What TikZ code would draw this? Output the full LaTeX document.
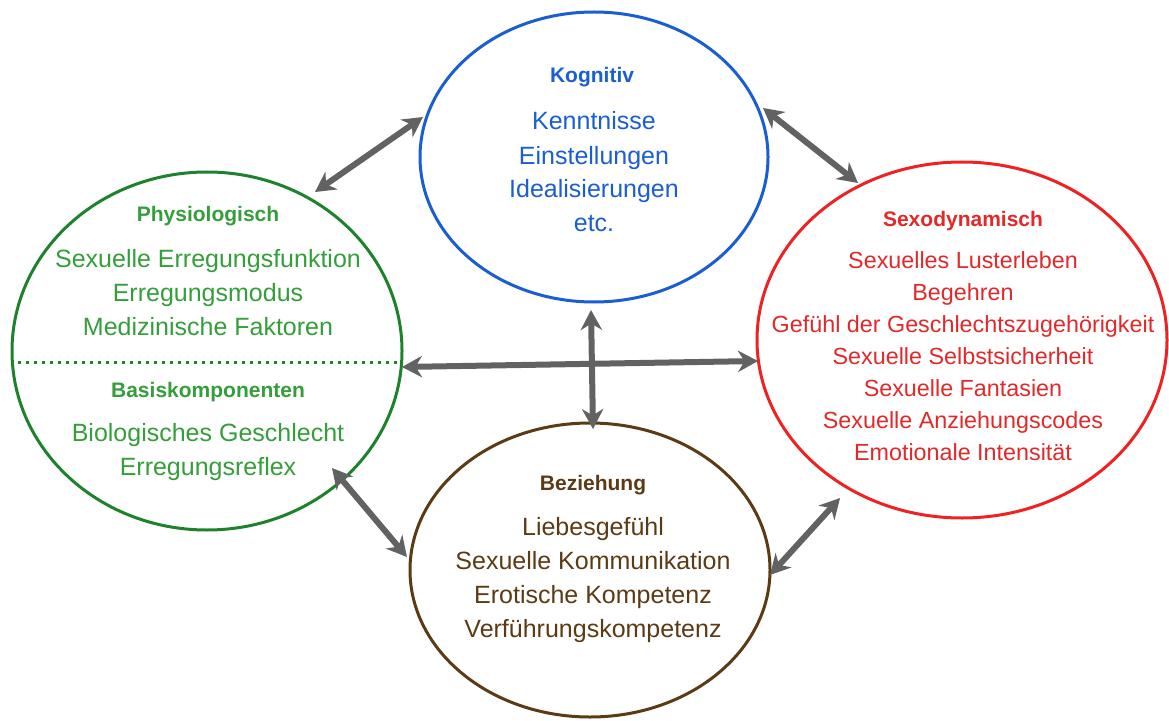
\documentclass[tikz,border=0pt]{standalone}
\usepackage{fontspec}
\setmainfont{Liberation Sans}
\usetikzlibrary{arrows.meta,shapes.geometric}

\definecolor{kogblue}{RGB}{26,94,208}
\definecolor{phygreen}{RGB}{30,130,45}
\definecolor{phytext}{RGB}{52,158,58}
\definecolor{sexred}{RGB}{238,34,34}
\definecolor{sextext}{RGB}{226,40,40}
\definecolor{bezbrown}{RGB}{92,58,20}
\definecolor{linkgray}{RGB}{98,98,98}

\tikzset{
  ring/.style={ellipse, draw, line width=2.25pt, inner sep=0pt},
  ttl/.style={anchor=base, font=\fontsize{15.75}{19}\selectfont\bfseries},
  % anchor=base of a multi-line node sits on its last line
  body/.style={anchor=base, align=center, inner sep=0pt, font=\fontsize{18.75}{25.5}\selectfont},
  link/.style={{Stealth[length=15pt,width=16pt]}-{Stealth[length=15pt,width=16pt]}, line width=4.5pt, linkgray}
}

\begin{document}
\begin{tikzpicture}[x=0.75pt,y=-0.75pt]
    \useasboundingbox (0,0) rectangle (1169,720);

    % the four ellipses
    \draw (594,157) node[ring, kogblue, minimum width=261pt, minimum height=217.5pt](kog){}
        (207,351) node[ring, phygreen, minimum width=292.5pt, minimum height=268.5pt](phy){}
        (962,340) node[ring, sexred, minimum width=307.5pt, minimum height=267pt](sex){}
        (590,570) node[ring, bezbrown, minimum width=270pt, minimum height=220.5pt](bez){};

    % Kognitiv
    \node[ttl, kogblue] (kogT) at (592,83) {Kognitiv};
    \node[body, kogblue] (kogB) at (594,232)
        {Kenntnisse\\Einstellungen\\Idealisierungen\\etc.};

    % Physiologisch
    \node[ttl, phytext] (phyT) at (208,222) {Physiologisch};
    \node[body, phytext] (phyB) at (208,335)
        {Sexuelle Erregungsfunktion\\Erregungsmodus\\Medizinische Faktoren};
    \coordinate (divL) at (18,362);
    \coordinate (divR) at (397,362);
    \draw[phygreen, line width=2.25pt, dash pattern=on 2.25pt off 3.75pt] (divL) -- (divR);
    \node[ttl, phytext] (basT) at (208,397) {Basiskomponenten};
    \node[body, phytext] (basB) at (208,475)
        {Biologisches Geschlecht\\Erregungsreflex};

    % Sexodynamisch
    \node[ttl, sextext] (sexT) at (963,226) {Sexodynamisch};
    \node[body, sextext, font=\fontsize{17.5}{24}\selectfont] (sexB) at (963,460)
        {Sexuelles Lusterleben\\Begehren\\Gef\"uhl der Geschlechtszugeh\"origkeit\\Sexuelle Selbstsicherheit\\Sexuelle Fantasien\\Sexuelle Anziehungscodes\\Emotionale Intensit\"at};

    % Beziehung
    \node[ttl, bezbrown] (bezT) at (593,490) {Beziehung};
    \node[body, bezbrown] (bezB) at (593,637)
        {Liebesgef\"uhl\\Sexuelle Kommunikation\\Erotische Kompetenz\\Verf\"uhrungskompetenz};

    % arrow ends
    \coordinate (a1s) at (315,192);
    \coordinate (a1e) at (423,117);
    \coordinate (a2s) at (763,108);
    \coordinate (a2e) at (858,183);
    \coordinate (a3s) at (402,367);
    \coordinate (a3e) at (758,361);
    \coordinate (a4s) at (591,310);
    \coordinate (a4e) at (593,429);
    \coordinate (a5s) at (332,468);
    \coordinate (a5e) at (407,557);
    \coordinate (a6s) at (770,575);
    \coordinate (a6e) at (840,498);

    \draw[link] (a1s) -- (a1e);
    \draw[link] (a2s) -- (a2e);
    \draw[link] (a3s) -- (a3e);
    \draw[link] (a4s) -- (a4e);
    \draw[link] (a5s) -- (a5e);
    \draw[link] (a6s) -- (a6e);
\end{tikzpicture}
\end{document}
